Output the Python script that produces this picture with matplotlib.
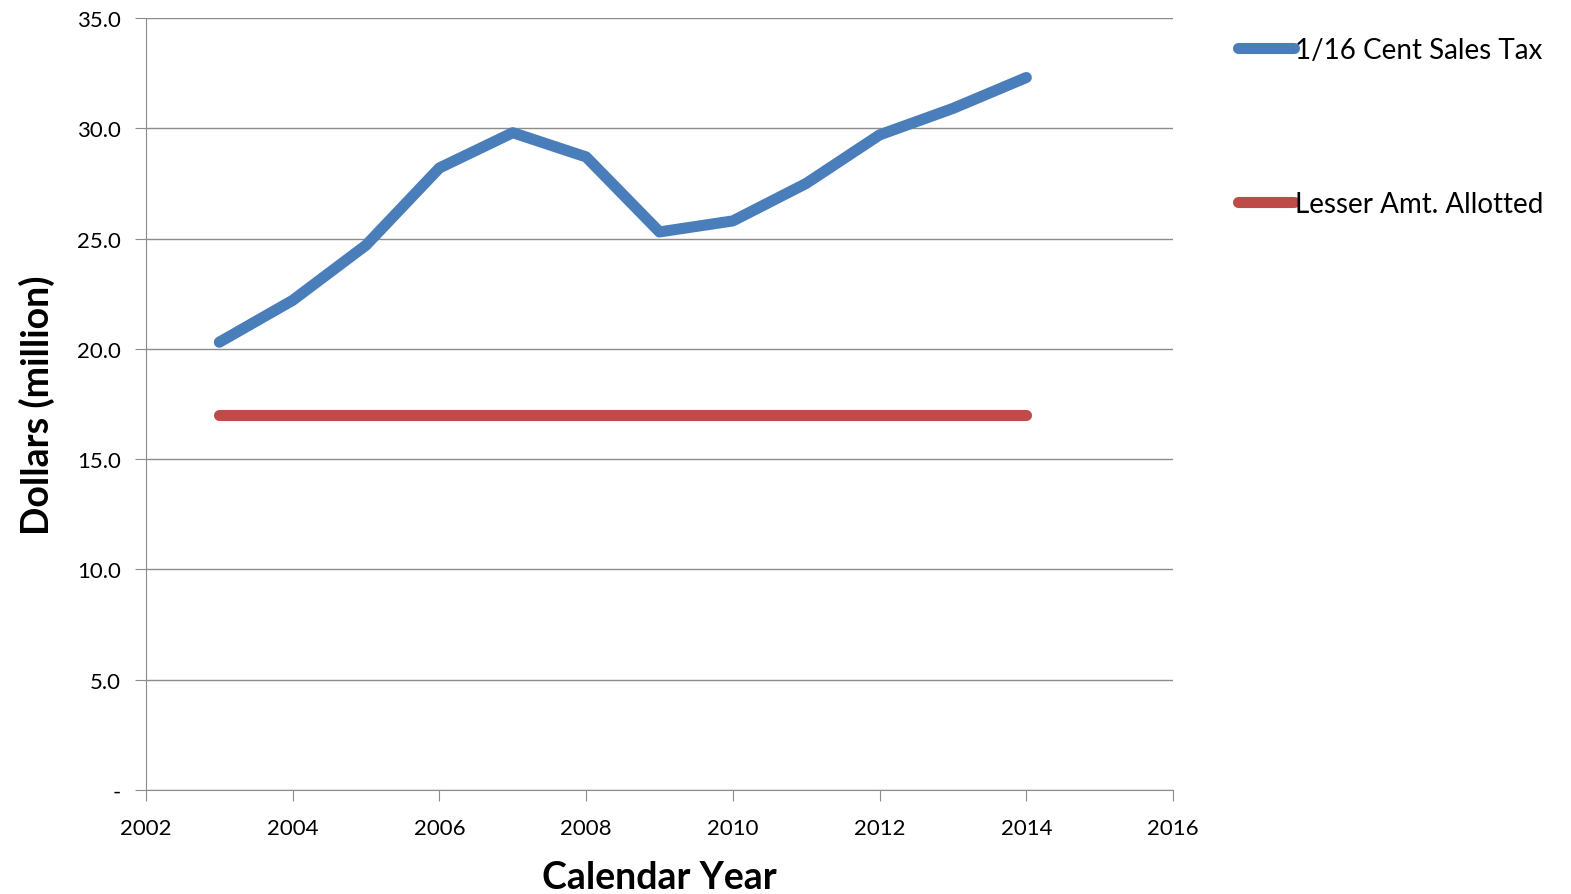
import matplotlib.pyplot as plt
from matplotlib.lines import Line2D

plt.rcParams['font.family'] = ['Lato', 'DejaVu Sans']

years = [2003, 2004, 2005, 2006, 2007, 2008, 2009, 2010, 2011, 2012, 2013, 2014]
sales_tax = [20.3, 22.2, 24.7, 28.2, 29.8, 28.7, 25.3, 25.8, 27.5, 29.7, 30.9, 32.3]
allotted = [17.0] * len(years)

y_ticks = [0, 5, 10, 15, 20, 25, 30, 35]
y_labels = ['-', '5.0', '10.0', '15.0', '20.0', '25.0', '30.0', '35.0']
x_ticks = [2002, 2004, 2006, 2008, 2010, 2012, 2014, 2016]

blue = '#4a7ebb'
red = '#be4b48'

fig = plt.figure(figsize=(15.71, 8.95), dpi=100)
ax = fig.add_axes([0.0929, 0.1162, 0.6538, 0.8626])

ax.plot(years, sales_tax, color=blue, lw=8, solid_capstyle='round', solid_joinstyle='round',
        label='1/16 Cent Sales Tax')
ax.plot(years, allotted, color=red, lw=8, solid_capstyle='round', label='Lesser Amt. Allotted')

ax.set_xlim(2002, 2016)
ax.set_ylim(0, 35)
ax.set_xticks(x_ticks)
ax.set_yticks(y_ticks)
ax.set_yticklabels(y_labels)
ax.grid(axis='y', color='#8c8c8c', lw=1)
ax.set_axisbelow(True)
for s in ['top', 'right']:
    ax.spines[s].set_visible(False)
for s in ['left', 'bottom']:
    ax.spines[s].set_color('#8c8c8c')
ax.tick_params(axis='both', colors='#8c8c8c', length=8, labelsize=16, labelcolor='black')
ax.tick_params(axis='x', pad=12)
ax.tick_params(axis='y', pad=10)

ax.set_xlabel('Calendar Year', fontsize=27, fontweight='bold', labelpad=16)
ax.set_ylabel('Dollars (million)', fontsize=27, fontweight='bold', labelpad=16)

handles = [Line2D([], [], color=blue, lw=8, solid_capstyle='round'),
           Line2D([], [], color=red, lw=8, solid_capstyle='round')]
fig.legend(handles, ['1/16 Cent Sales Tax', 'Lesser Amt. Allotted'], loc='upper left',
           bbox_to_anchor=(0.781, 0.970), frameon=False, fontsize=20, handlelength=2.0,
           handletextpad=0.05, labelspacing=4.6, borderaxespad=0)

fig.savefig('out.png', dpi=100)
